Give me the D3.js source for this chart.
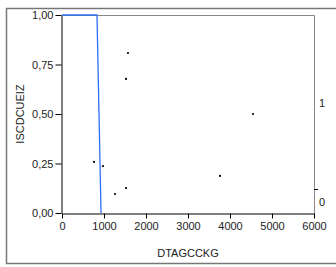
<!DOCTYPE html>
<meta charset="utf-8">
<script src="https://d3js.org/d3.v7.min.js"></script>
<style>
body { margin: 0; background: #fff; }
svg { display: block; font-family: "Liberation Sans", Arial, sans-serif; }
.axis text { font-size: 11px; fill: #222; }
.axis path { stroke: #000; }
.axis line { stroke: #000; }
</style>
<body></body>
<script>

// scatter points (x, y)
var xs = [762, 976, 1262, 1524, 3762, 4548, 1571, 1524];
var ys = [0.258, 0.237, 0.096, 0.126, 0.187, 0.50, 0.808, 0.677];

// fitted line
var lineX = [0, 833, 929];
var lineY = [1, 1, 0];

var xTicks = [0, 1000, 2000, 3000, 4000, 5000, 6000];
var yTicks = [0, 0.25, 0.5, 0.75, 1];
var rightLabels = ['0', '1'];

var W = 336, H = 267;
var margin = {top: 15, right: 22, bottom: 53, left: 62};
var width = W - margin.left - margin.right;
var height = H - margin.top - margin.bottom;

var svg = d3.select('body').append('svg')
    .attr('width', W)
    .attr('height', H);

// outer frame
svg.append('path')
  .attr('d', 'M336,8.5H6.5V263.5H336')
  .attr('fill', 'none')
  .attr('stroke', '#777')
  .attr('stroke-width', 1.5);

var g = svg.append('g')
    .attr('transform', 'translate(' + margin.left + ',' + margin.top + ')');

var x = d3.scaleLinear().domain([0, 6000]).range([0, width]);
var y = d3.scaleLinear().domain([0, 1]).range([height - 1, 0]);

// plot box top + right
g.append('path')
  .attr('d', 'M0,0.5H' + (width + 0.5) + 'V' + height)
  .attr('fill', 'none')
  .attr('stroke', '#888');

g.append('g')
  .attr('class', 'x axis')
  .attr('transform', 'translate(0,' + (height - 0.5) + ')')
  .call(d3.axisBottom(x).tickValues(xTicks).tickSize(5).tickPadding(4).tickSizeOuter(0)
    .tickFormat(d3.format('d')));

g.append('g')
  .attr('class', 'y axis')
  .attr('transform', 'translate(-0.5,0)')
  .call(d3.axisLeft(y).tickValues(yTicks).tickSize(6).tickPadding(2).tickSizeOuter(0)
    .tickFormat(d => d3.format('.2f')(d).replace('.', ',')));

// right axis labels
var yr = d3.scaleLinear().domain([0, 1]).range([187, 88]);
var right = g.append('g').attr('class', 'axis');
right.selectAll('text').data(rightLabels).enter().append('text')
  .attr('x', width + 5)
  .attr('y', (d, i) => yr(i))
  .attr('dy', '0.35em')
  .attr('fill', '#222')
  .text(d => d);
right.append('line')
  .attr('x1', width).attr('x2', width + 4)
  .attr('y1', 174.5).attr('y2', 174.5)
  .attr('stroke', '#000');

// fitted line
var line = d3.line()
  .x((d, i) => x(d))
  .y((d, i) => y(lineY[i]));
g.append('path')
  .datum(lineX)
  .attr('d', line)
  .attr('fill', 'none')
  .attr('stroke', '#2b6cf0')
  .attr('stroke-width', 1.3);

// points
g.selectAll('.pt')
  .data(xs).enter().append('circle')
  .attr('class', 'pt')
  .attr('cx', d => x(d))
  .attr('cy', (d, i) => y(ys[i]))
  .attr('r', 1.1)
  .attr('fill', '#000');

// titles
svg.append('text')
  .attr('x', 188)
  .attr('y', 257)
  .attr('text-anchor', 'middle')
  .attr('font-size', 11)
  .attr('fill', '#222')
  .text('DTAGCCKG');

svg.append('text')
  .attr('transform', 'translate(24,114) rotate(-90)')
  .attr('text-anchor', 'middle')
  .attr('font-size', 11)
  .attr('fill', '#222')
  .text('ISCDCUEIZ');

</script>
